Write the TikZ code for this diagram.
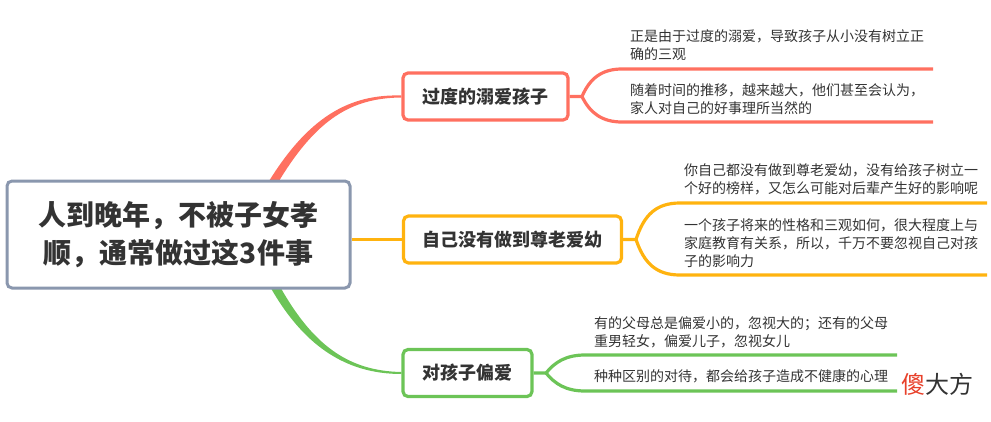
\documentclass[tikz,border=0pt]{standalone}
\usepackage{fontspec}
\setmainfont{Noto Sans CJK SC}
\usepackage{xcolor}
\usetikzlibrary{positioning,backgrounds}

\definecolor{redline}{HTML}{FF7060}
\definecolor{orangeline}{HTML}{FFB30F}
\definecolor{greenline}{HTML}{6CC457}
\definecolor{rootline}{HTML}{8A97AE}
\definecolor{inktext}{HTML}{333333}
\definecolor{markred}{HTML}{E8402A}

\tikzset{
	rootbox/.style={draw=rootline,line width=3pt,rounded corners=5pt,fill=white,align=center,text=inktext,
		minimum width=343pt,minimum height=107pt,inner sep=0pt,font=\fontsize{28}{38}\selectfont\bfseries},
	branchbox/.style={line width=3.2pt,rounded corners=5pt,fill=white,text=inktext,
		minimum height=47pt,inner sep=0pt,font=\fontsize{18}{22}\selectfont\bfseries},
	leaftext/.style={anchor=west,align=left,inner sep=0pt,text=inktext,font=\fontsize{14}{18}\selectfont},
	limb/.style={line width=3.2pt}
}

\begin{document}
\begin{tikzpicture}[x=1pt,y=-1pt]
	\useasboundingbox (0,0) rectangle (991,421);

	\node[rootbox] (root) at (178.5,234.5) {人到晚年，不被子女孝\\顺，通常做过这3件事};

	\begin{scope}[every node/.append style={branchbox}]
		\node[draw=redline,minimum width=165pt] (over) at (485.5,96.5) {过度的溺爱孩子};
		\node[draw=orangeline,minimum width=218pt] (self) at (512.5,239.5) {自己没有做到尊老爱幼};
		\node[draw=greenline,minimum width=129pt] (bias) at (467.5,373) {对孩子偏爱};
	\end{scope}

	\begin{scope}[every node/.append style={leaftext}]
		\node (over1) at (630,45) {正是由于过度的溺爱，导致孩子从小没有树立正\\确的三观};
		\node (over2) at (630,99.5) {随着时间的推移，越来越大，他们甚至会认为，\\家人对自己的好事理所当然的};
		\node (self1) at (684,179.5) {你自己都没有做到尊老爱幼，没有给孩子树立一\\个好的榜样，又怎么可能对后辈产生好的影响呢};
		\node (self2) at (684,243) {一个孩子将来的性格和三观如何，很大程度上与\\家庭教育有关系，所以，千万不要忽视自己对孩\\子的影响力};
		\node (bias1) at (594,332) {有的父母总是偏爱小的，忽视大的；还有的父母\\重男轻女，偏爱儿子，忽视女儿};
		\node (bias2) at (594,376) {种种区别的对待，都会给孩子造成不健康的心理};
	\end{scope}

	\node[inner sep=0pt,text=inktext,font=\fontsize{24}{28}\selectfont] (mark) at (937,384) {\textcolor{markred}{傻}大方};

	% ends of the limbs
	\coordinate (overhub) at (582,96.5);
	\coordinate (overtop) at (933,69);
	\coordinate (overbot) at (933,122);
	\coordinate (selfhub) at (636,239.5);
	\coordinate (selftop) at (987,203);
	\coordinate (selfbot) at (987,275);
	\coordinate (biashub) at (546,373);
	\coordinate (biastop) at (897,355);
	\coordinate (biasbot) at (897,391);

	\draw[limb,redline] (over.east) -- (overhub) .. controls (590,78) and (602,69) .. (622,69) -- (overtop);
	\draw[limb,redline] (overhub) .. controls (590,113) and (602,122) .. (622,122) -- (overbot);

	\draw[limb,orangeline] (self.east) -- (selfhub) .. controls (644,215) and (656,203) .. (680,203) -- (selftop);
	\draw[limb,orangeline] (selfhub) .. controls (644,263) and (656,275) .. (680,275) -- (selfbot);

	\draw[limb,greenline] (bias.east) -- (biashub) .. controls (555,362) and (566,355) .. (585,355) -- (biastop);
	\draw[limb,greenline] (biashub) .. controls (555,384) and (566,391) .. (585,391) -- (biasbot);

	% tapered links out of the root, under its box
	\coordinate (redleft) at (266,186);
	\coordinate (redright) at (276,186);
	\coordinate (greenleft) at (268,283);
	\coordinate (greenright) at (278,283);
	\begin{scope}[on background layer]
		\fill[redline] (redleft) .. controls (308,116) and (350,94) .. ([yshift=1pt]over.west)
			-- ([yshift=-1pt]over.west) .. controls (352,98) and (316,118) .. (redright) -- cycle;
		\fill[greenline] (greenleft) .. controls (302,345) and (345,374) .. ([yshift=-1pt]bias.west)
			-- ([yshift=1pt]bias.west) .. controls (348,371) and (312,345) .. (greenright) -- cycle;
		\draw[line width=3pt,orangeline] (root.east |- self.west) -- (self.west);
	\end{scope}
\end{tikzpicture}
\end{document}
